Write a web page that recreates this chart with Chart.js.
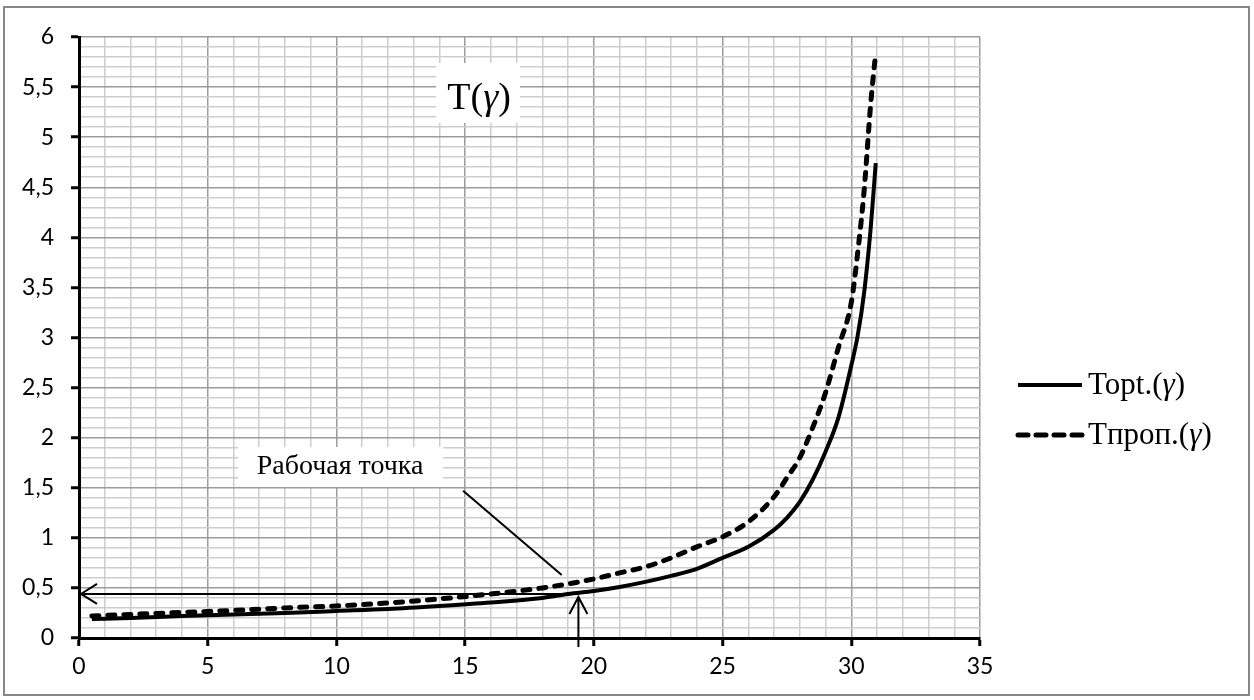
<!DOCTYPE html>
<html lang="ru">
<head>
  <meta charset="UTF-8">
  <title>T(γ)</title>
  <style>
    body {
      margin: 0;
      background: #ffffff;
    }
    #myChart {
      display: block;
    }
  </style>
</head>
<body>
<canvas id="myChart" width="1254" height="700"></canvas>

<script src="https://cdn.jsdelivr.net/npm/chart.js"></script>
<script>
  // значения gamma (ось X)
  const gammaValues = [0.5, 2, 4, 6, 8, 10, 12, 14, 16, 18, 19, 20, 21, 22, 23, 24, 25, 26, 27, 27.5, 28, 28.5, 29, 29.5, 30, 30.25, 30.5, 30.75, 30.95];
  // Topt.(γ) - сплошная линия
  const tOpt = [0.19, 0.20, 0.22, 0.235, 0.25, 0.27, 0.29, 0.32, 0.355, 0.40, 0.44, 0.47, 0.51, 0.56, 0.62, 0.69, 0.80, 0.91, 1.08, 1.20, 1.36, 1.58, 1.86, 2.20, 2.72, 3.02, 3.45, 4.08, 4.74];
  // Tпроп.(γ) - пунктир
  const tProp = [0.22, 0.235, 0.255, 0.275, 0.30, 0.32, 0.35, 0.39, 0.44, 0.50, 0.54, 0.59, 0.65, 0.71, 0.80, 0.91, 1.01, 1.16, 1.41, 1.60, 1.80, 2.10, 2.45, 2.90, 3.35, 3.85, 4.47, 5.32, 5.85];
  const seriesNames = ['Topt.(γ)', 'Tпроп.(γ)'];

  // оси
  const xMin = 0, xMax = 35, xStep = 1, xMajor = 5;
  const yMin = 0, yMax = 6, yStep = 0.1, yMajor = 0.5;

  // рабочая точка
  const workPoint = { x: 19.4, y: 0.44 };

  const isMajor = (v, m) => Math.abs(v / m - Math.round(v / m)) < 1e-6;

  const serif = '"Liberation Serif", "Times New Roman", serif';

  // текст с курсивной γ
  function drawGammaText(c, text, x, y, size, align) {
    const parts = text.split('γ');
    const normal = size + 'px ' + serif;
    const italic = 'italic ' + size + 'px ' + serif;
    const pieces = [];
    parts.forEach((p, i) => {
      if (p) pieces.push([p, normal]);
      if (i < parts.length - 1) pieces.push(['γ', italic]);
    });
    let total = 0;
    pieces.forEach(pc => { c.font = pc[1]; total += c.measureText(pc[0]).width; });
    let cx = align === 'center' ? x - total / 2 : x;
    c.textAlign = 'left';
    pieces.forEach(pc => {
      c.font = pc[1];
      c.fillText(pc[0], cx, y);
      cx += c.measureText(pc[0]).width;
    });
  }

  const decorPlugin = {
    id: 'decor',
    beforeDraw(chart) {
      const c = chart.ctx;
      c.save();
      c.fillStyle = '#ffffff';
      c.fillRect(0, 0, chart.width, chart.height);
      c.strokeStyle = '#878787';
      c.lineWidth = 2;
      c.strokeRect(4, 7, 1245, 688);
      c.restore();
    },
    afterDatasetsDraw(chart) {
      const c = chart.ctx;
      const xs = chart.scales.x, ys = chart.scales.y;
      const px = v => xs.getPixelForValue(v);
      const py = v => ys.getPixelForValue(v);

      c.save();
      c.strokeStyle = '#000';
      c.fillStyle = '#000';
      c.lineWidth = 2;

      // горизонтальная стрелка к оси Y
      const wx = px(workPoint.x), wy = py(workPoint.y);
      const x0 = px(0) + 2;
      c.beginPath();
      c.moveTo(wx, wy);
      c.lineTo(x0, wy);
      c.moveTo(x0 + 16, wy - 10);
      c.lineTo(x0, wy);
      c.lineTo(x0 + 16, wy + 10);
      c.stroke();

      // вертикальная стрелка от оси X
      const yTip = py(workPoint.y) + 3;
      c.beginPath();
      c.moveTo(wx, py(0) + 9);
      c.lineTo(wx, yTip);
      c.moveTo(wx - 9, yTip + 17);
      c.lineTo(wx, yTip);
      c.lineTo(wx + 9, yTip + 17);
      c.stroke();

      // выноска "Рабочая точка"
      c.beginPath();
      c.moveTo(px(14.92), py(1.47));
      c.lineTo(px(18.75), py(0.63));
      c.stroke();

      c.fillStyle = '#fff';
      c.fillRect(238, 447, 205, 40);
      c.fillStyle = '#000';
      c.font = '28px ' + serif;
      c.textAlign = 'center';
      c.textBaseline = 'middle';
      c.fillText('Рабочая точка', px(10.14), py(1.71));

      // заголовок T(γ)
      c.fillStyle = '#fff';
      c.fillRect(436, 63, 84, 60);
      c.fillStyle = '#000';
      drawGammaText(c, 'T(γ)', px(15.54), py(5.38), 38, 'center');

      // легенда
      chart.data.datasets.forEach((ds, i) => {
        const ly = 385 + i * 50;
        c.beginPath();
        c.setLineDash(ds.borderDash ? [10, 8] : []);
        c.lineCap = ds.borderCapStyle || 'butt';
        c.lineWidth = ds.borderWidth;
        c.strokeStyle = ds.borderColor;
        c.moveTo(1018, ly);
        c.lineTo(1082, ly);
        c.stroke();
        c.setLineDash([]);
        c.fillStyle = '#000';
        drawGammaText(c, ds.label, 1088, ly + 1, 31, 'left');
      });
      c.restore();
    }
  };

  const tickFont = { family: 'Lato, "Open Sans", sans-serif', size: 23 };

  const ctx = document.getElementById('myChart').getContext('2d');
  new Chart(ctx, {
    type: 'line',
    data: {
      datasets: [{
        label: seriesNames[0],
        data: gammaValues.map((g, i) => ({ x: g, y: tOpt[i] })),
        borderColor: '#000',
        borderWidth: 4,
        pointRadius: 0,
        cubicInterpolationMode: 'monotone',
        fill: false
      }, {
        label: seriesNames[1],
        data: gammaValues.map((g, i) => ({ x: g, y: tProp[i] })),
        borderColor: '#000',
        borderWidth: 5,
        borderDash: [7, 9],
        borderCapStyle: 'round',
        pointRadius: 0,
        cubicInterpolationMode: 'monotone',
        fill: false
      }]
    },
    options: {
      responsive: false,
      animation: false,
      devicePixelRatio: 1,
      layout: { padding: { top: 37, right: 274, bottom: 0, left: 0 } },
      plugins: {
        legend: { display: false },
        tooltip: { enabled: false }
      },
      scales: {
        x: {
          type: 'linear',
          min: xMin,
          max: xMax,
          afterFit: s => { s.height = 62; },
          border: { display: true, color: '#000', width: 3 },
          grid: {
            color: c => isMajor(c.tick.value, xMajor) ? '#9c9c9c' : '#cdcdcd',
            lineWidth: 1.5,
            tickLength: 8,
            tickWidth: 3,
            tickColor: c => isMajor(c.tick.value, xMajor) ? '#000' : 'rgba(0,0,0,0)'
          },
          ticks: {
            stepSize: xStep,
            maxTicksLimit: 100,
            autoSkip: false,
            maxRotation: 0,
            minRotation: 0,
            padding: 7,
            color: '#000',
            font: tickFont,
            callback: v => isMajor(v, xMajor) ? String(Math.round(v)) : ''
          }
        },
        y: {
          min: yMin,
          max: yMax,
          afterFit: s => { s.width = 79; },
          border: { display: true, color: '#000', width: 3 },
          grid: {
            color: c => isMajor(c.tick.value, yMajor) ? '#9c9c9c' : '#cdcdcd',
            lineWidth: 1.5,
            tickLength: 8,
            tickWidth: 3,
            tickColor: c => isMajor(c.tick.value, yMajor) ? '#000' : 'rgba(0,0,0,0)'
          },
          ticks: {
            stepSize: yStep,
            maxTicksLimit: 100,
            autoSkip: false,
            padding: 17,
            color: '#000',
            font: tickFont,
            callback: v => isMajor(v, yMajor) ? String(Math.round(v * 10) / 10).replace('.', ',') : ''
          }
        }
      }
    },
    plugins: [decorPlugin]
  });
</script>
</body>
</html>
